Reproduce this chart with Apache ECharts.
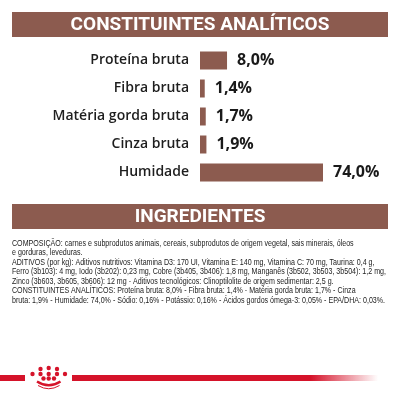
<!DOCTYPE html>
<html><head><meta charset="utf-8">
<script src="https://cdn.jsdelivr.net/npm/echarts@6/dist/echarts.min.js"></script>
<style>html,body{margin:0;padding:0;background:#fff}#c{width:400px;height:400px}</style>
</head><body><div id="c"></div>
<script>
const categories = ['Proteína bruta', 'Fibra bruta', 'Matéria gorda bruta', 'Cinza bruta', 'Humidade'];
const values = [8.0, 1.4, 1.7, 1.9, 74.0];
const title1 = 'CONSTITUINTES ANALÍTICOS';
const title2 = 'INGREDIENTES';
const ingredientLines = [
  'COMPOSIÇÃO: carnes e subprodutos animais, cereais, subprodutos de origem vegetal, sais minerais, óleos',
  'e gorduras, leveduras.',
  'ADITIVOS (por kg): Aditivos nutritivos: Vitamina D3: 170 UI, Vitamina E: 140 mg, Vitamina C: 70 mg, Taurina: 0,4 g,',
  'Ferro (3b103): 4 mg, Iodo (3b202): 0,23 mg, Cobre (3b405, 3b406): 1,8 mg, Manganês (3b502, 3b503, 3b504): 1,2 mg,',
  'Zinco (3b603, 3b605, 3b606): 12 mg - Aditivos tecnológicos: Clinoptilolite de origem sedimentar: 2,5 g.',
  'CONSTITUINTES ANALÍTICOS: Proteína bruta: 8,0% - Fibra bruta: 1,4% - Matéria gorda bruta: 1,7% - Cinza',
  'bruta: 1,9% - Humidade: 74,0% - Sódio: 0,16% - Potássio: 0,16% - Ácidos gordos ómega-3: 0,05% - EPA/DHA: 0,03%.'
];

const brown = '#8c5b4f';
const red = '#d5132a';
const paraFont = '8.6px "Liberation Sans"';
const ctx = document.createElement('canvas').getContext('2d');
ctx.font = paraFont;
const maxW = Math.max(...ingredientLines.map(l => ctx.measureText(l).width));
const paraScale = 374 / maxW;

const chart = echarts.init(document.getElementById('c'), null, {renderer: 'canvas'});

const crownDots = [
  [40.5, 369], [48.7, 368], [57, 369],
  [32.5, 374], [40.5, 374], [48.7, 374], [57, 374], [65, 374],
  [43.5, 378.5], [48.7, 378.5], [54, 378.5]
];

chart.setOption({
  animation: false,
  grid: {left: 200, right: 77, top: 46.5, bottom: 213.5, containLabel: false},
  xAxis: {type: 'value', min: 0, max: 36.4, show: false},
  yAxis: {
    type: 'category', data: categories, inverse: true,
    axisLine: {show: false}, axisTick: {show: false}, splitLine: {show: false},
    axisLabel: {margin: 11, color: '#1e1e1e', fontFamily: 'Open Sans', fontWeight: 600, fontSize: 14}
  },
  series: [{
    type: 'bar', data: values, barWidth: 18, clip: true,
    itemStyle: {color: brown},
    label: {
      show: true, position: 'right', distance: 10,
      color: '#1a1a1a', fontFamily: 'Open Sans', fontWeight: 'bold', fontSize: 16,
      formatter: p => p.value.toFixed(1).replace('.', ',') + '%'
    }
  }],
  graphic: [
    {type: 'rect', shape: {x: 12, y: 12, width: 376, height: 25}, style: {fill: brown}},
    {type: 'text', x: 200, y: 25, style: {text: title1, fill: '#fff', font: 'bold 19px Roboto', textAlign: 'center', textVerticalAlign: 'middle'}},
    {type: 'rect', shape: {x: 12, y: 204, width: 376, height: 25}, style: {fill: brown}},
    {type: 'text', x: 200, y: 217, style: {text: title2, fill: '#fff', font: 'bold 19px Roboto', textAlign: 'center', textVerticalAlign: 'middle'}},
    {type: 'text', x: 12, y: 238.5, scaleX: paraScale, style: {text: ingredientLines.join('\n'), fill: '#222', font: paraFont, lineHeight: 9.5, textAlign: 'left', textVerticalAlign: 'top'}},
    {type: 'rect', shape: {x: 0, y: 375, width: 25, height: 6}, style: {fill: red}},
    {type: 'rect', shape: {x: 72, y: 375, width: 306, height: 6}, style: {fill: new echarts.graphic.LinearGradient(0, 0, 1, 0, [
      {offset: 0, color: red}, {offset: 0.78, color: red}, {offset: 1, color: 'rgba(213,19,42,0)'}
    ])}},
    ...crownDots.map(d => ({type: 'circle', shape: {cx: d[0], cy: d[1], r: 2.2}, style: {fill: red}})),
    {type: 'bezierCurve', shape: {x1: 37, y1: 381.5, x2: 60.5, y2: 381.5, cpx1: 48.7, cpy1: 389}, style: {stroke: red, lineWidth: 2.4, fill: null}},
    {type: 'bezierCurve', shape: {x1: 38, y1: 385.5, x2: 59.5, y2: 385.5, cpx1: 48.7, cpy1: 392}, style: {stroke: red, lineWidth: 1, fill: null}}
  ]
});
</script></body></html>
